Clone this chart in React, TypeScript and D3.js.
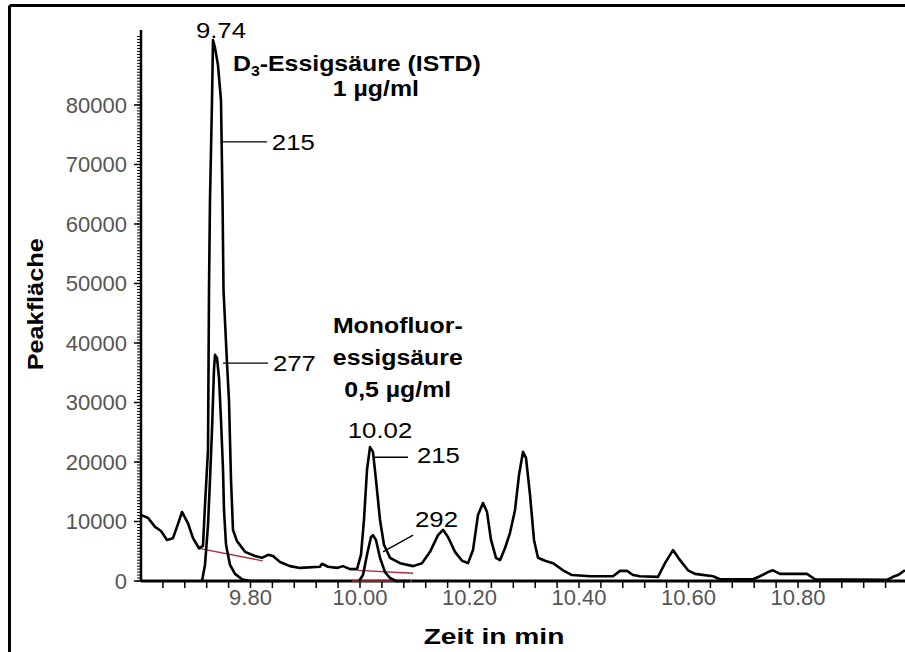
import React from "react";
import * as d3 from "d3";

// m/z 215 trace (retention time in min, peak area)
const time215 = [
  9.6, 9.6128, 9.6256, 9.6365, 9.6475, 9.6584, 9.6676, 9.6749, 9.6858, 9.695,
  9.7059, 9.7132, 9.7169, 9.7224, 9.7242, 9.726, 9.7297, 9.7315, 9.7352, 9.7406,
  9.7461, 9.7489, 9.7507, 9.7571, 9.7607, 9.7644, 9.768, 9.7753, 9.79, 9.8082,
  9.821, 9.832, 9.8411, 9.8539, 9.8721, 9.8904, 9.9269, 9.9306, 9.9416, 9.958,
  9.9689, 9.9817, 9.9945, 10.0018, 10.0073, 10.0128, 10.0183, 10.0237, 10.0292, 10.0365,
  10.0438, 10.0548, 10.0731, 10.0968, 10.1132, 10.1279, 10.1425, 10.1516, 10.1607, 10.1735,
  10.1863, 10.1973, 10.2064, 10.2155, 10.2247, 10.232, 10.2393, 10.2484, 10.2557, 10.2648,
  10.274, 10.2831, 10.2904, 10.2977, 10.3032, 10.3105, 10.3178, 10.3251, 10.3379, 10.3525,
  10.3708, 10.3872, 10.4201, 10.4621, 10.4749, 10.4877, 10.4986, 10.5114, 10.5443, 10.5571,
  10.5717, 10.5845, 10.5991, 10.6119, 10.6447, 10.6575, 10.7178, 10.7306, 10.7452, 10.7543,
  10.7671, 10.8164, 10.8311, 10.9626, 10.9735, 10.9826, 10.9954,
];
const area215 = [
  11100, 10600, 9100, 8400, 6900, 7200, 9600, 11600, 9700, 7200,
  5500, 5900, 12800, 22000, 48900, 64000, 80800, 90900, 89600, 86700,
  80800, 64000, 48900, 36600, 30400, 17000, 8600, 6700, 4900, 4200,
  3900, 4400, 4200, 3200, 2500, 2200, 2400, 2900, 2400, 2200,
  2500, 2000, 2000, 4400, 10300, 18700, 22500, 21700, 17000, 10300,
  6100, 3900, 3000, 2500, 3000, 4900, 7700, 8600, 7400, 4900,
  3400, 3000, 5200, 11100, 13100, 11600, 6900, 3900, 3500, 5500,
  8100, 11900, 17800, 21700, 20700, 14500, 6900, 3900, 3400, 3000,
  1800, 1000, 800, 800, 1700, 1700, 1000, 800, 700, 3000,
  5200, 3500, 1800, 1200, 800, 300, 300, 800, 1500, 1800,
  1200, 1200, 300, 200, 700, 1000, 1800,
];

// m/z 277 trace
const time277 = [
  9.7114, 9.7169, 9.7224, 9.726, 9.7297, 9.7333, 9.7352, 9.7388, 9.7425, 9.7461,
  9.7498, 9.7516, 9.7553, 9.7626, 9.7717, 9.7845, 9.7991, 9.8539,
];
const area277 = [
  0, 2700, 9400, 17000, 25400, 35500, 38000, 37500, 34100, 27100,
  18700, 11900, 6100, 2700, 1200, 300, 0, 0,
];

// m/z 292 trace
const time292 = [9.9982, 10.0055, 10.0128, 10.0201, 10.0237, 10.0292, 10.0365, 10.0457, 10.0548, 10.0658, 10.0913];
const area292 = [0, 1000, 4400, 7400, 7700, 6900, 3900, 1500, 500, 0, 0];

// integration baselines (red)
const baseT1 = [9.706, 9.996, 9.985];
const baseA1 = [5500, 1800, 0];
const baseT2 = [9.822, 10.097, 10.095];
const baseA2 = [3400, 1300, 0];

const yTickValues = [0, 10000, 20000, 30000, 40000, 50000, 60000, 70000, 80000];
const xTickValues = [9.8, 10.0, 10.2, 10.4, 10.6, 10.8];
const xTickLabels = ["9.80", "10.00", "10.20", "10.40", "10.60", "10.80"];

// leader lines next to the peaks
const leaders = [
  { t1: 9.748, a1: 73800, t2: 9.83, a2: 73800 },
  { t1: 9.7498, a1: 36600, t2: 9.832, a2: 36600 },
  { t1: 10.0256, a1: 20800, t2: 10.0877, a2: 20800 },
  { t1: 10.042, a1: 4900, t2: 10.097, a2: 7700 },
];

// peak labels
const labels = [
  { text: "9.74", t: 9.746, a: 91300, anchor: "middle" },
  { text: "215", t: 9.839, a: 72400, anchor: "start" },
  { text: "277", t: 9.841, a: 35300, anchor: "start" },
  { text: "10.02", t: 10.0365, a: 24000, anchor: "middle" },
  { text: "215", t: 10.104, a: 19800, anchor: "start" },
  { text: "292", t: 10.1005, a: 9100, anchor: "start" },
];
const monoLines = ["Monofluor-", "essigsäure", "0,5 µg/ml"];
const monoAreas = [41700, 36300, 30900];

const W = 905;
const H = 652;
const FONT = "'Liberation Sans', Arial, sans-serif";

const App = () => {
  const x = d3.scaleLinear().domain([9.6, 11.0]).range([141, 907.5]);
  const y = d3.scaleLinear().domain([0, 92600]).range([581, 30]);

  const path = (ts: number[], as: number[]) =>
    d3
      .line<number>()
      .x((t) => x(t))
      .y((_, i) => y(as[i]))(ts) || "";

  const minorX = d3.range(9.64, 11.0, 0.04);
  const minorY = d3.range(0, 92000, 500);

  return (
    <svg
      width={W}
      height={H}
      style={{ position: "absolute", left: 0, top: 0, background: "#fff" }}
      fontFamily={FONT}
    >
      {/* frame */}
      <line x1={9.5} y1={5.5} x2={W} y2={5.5} stroke="#000" strokeWidth={3} />
      <line x1={9.5} y1={5.5} x2={9.5} y2={H} stroke="#000" strokeWidth={3} />

      {/* y axis */}
      <line x1={141} y1={y.range()[1]} x2={141} y2={581} stroke="#000" strokeWidth={2.5} />
      {minorY.map((v) => (
        <line key={v} x1={137} x2={141} y1={y(v)} y2={y(v)} stroke="#000" strokeWidth={1} />
      ))}
      {yTickValues.map((v) => (
        <g key={v}>
          <line x1={134} x2={141} y1={y(v)} y2={y(v)} stroke="#000" strokeWidth={1.5} />
          <text x={127} y={y(v)} dy="0.36em" textAnchor="end" fontSize={22} fill="#555">
            {v}
          </text>
        </g>
      ))}

      {/* x axis */}
      <line x1={141} y1={581} x2={W} y2={581} stroke="#000" strokeWidth={3} />
      {minorX.map((t) => (
        <line key={t} x1={x(t)} x2={x(t)} y1={581} y2={588} stroke="#000" strokeWidth={1.5} />
      ))}
      {xTickValues.map((t, i) => (
        <text key={t} x={x(t)} y={605} textAnchor="middle" fontSize={22} fill="#555">
          {xTickLabels[i]}
        </text>
      ))}

      {/* red integration baselines */}
      {baseT1.map((t, i) => (
        <line
          key={i}
          x1={x(t)}
          y1={y(baseA1[i])}
          x2={x(baseT2[i])}
          y2={y(baseA2[i])}
          stroke="#b0283a"
          strokeWidth={1.3}
        />
      ))}

      {/* traces */}
      <g fill="none" stroke="#000" strokeWidth={2.6} strokeLinejoin="round">
        <path d={path(time277, area277)} />
        <path d={path(time292, area292)} />
        <path d={path(time215, area215)} />
      </g>

      {/* leaders */}
      {leaders.map((l, i) => (
        <line key={i} x1={x(l.t1)} y1={y(l.a1)} x2={x(l.t2)} y2={y(l.a2)} stroke="#000" strokeWidth={1.3} />
      ))}

      {/* peak labels */}
      {labels.map((l, i) => (
        <text
          key={i}
          transform={`translate(${x(l.t)},${y(l.a)}) scale(1.12,1)`}
          textAnchor={l.anchor}
          fontSize={23}
          fill="#000"
        >
          {l.text}
        </text>
      ))}

      {/* compound names */}
      <g fontWeight="bold" fontSize={22} fill="#000">
        <text transform={`translate(${x(9.768)},${y(85700)}) scale(1.13,1)`}>
          <tspan>D</tspan>
          <tspan dy={5} fontSize={14}>3</tspan>
          <tspan dy={-5}>-Essigsäure (ISTD)</tspan>
        </text>
        <text transform={`translate(${x(10.029)},${y(81500)}) scale(1.13,1)`} textAnchor="middle">
          1 µg/ml
        </text>
        {monoLines.map((s, i) => (
          <text key={s} transform={`translate(${x(10.069)},${y(monoAreas[i])}) scale(1.13,1)`} textAnchor="middle">
            {s}
          </text>
        ))}
      </g>

      {/* axis titles */}
      <text
        transform={`translate(494,644) scale(1.28,1)`}
        textAnchor="middle"
        fontWeight="bold"
        fontSize={22}
      >
        Zeit in min
      </text>
      <text
        transform={`translate(43,${y(46500)}) rotate(-90) scale(1.15,1)`}
        textAnchor="middle"
        fontWeight="bold"
        fontSize={22}
      >
        Peakfläche
      </text>
    </svg>
  );
};

export default App;
